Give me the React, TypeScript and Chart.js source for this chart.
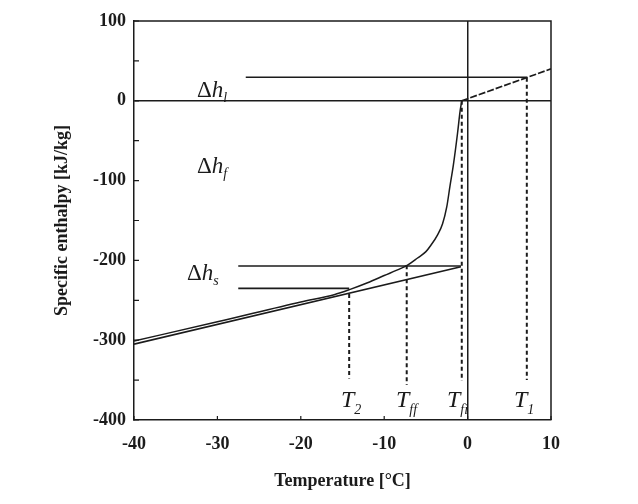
import { useEffect, useRef } from 'react';
import { Chart, registerables } from 'chart.js';

Chart.register(...registerables);

// ---- data (temperature °C, specific enthalpy kJ/kg) ----
const xTickStep = 10;
const yTickStep = 50;
const xRange = [-40, 10];
const yRange = [-400, 100];

const freezeT = [-40, -30, -20, -16, -14, -12, -10, -8, -7.2, -6, -5, -4.4, -3.6, -3.0, -2.5, -2.1, -1.7, -1.2, -0.9, -0.7];
const freezeH = [-301, -277, -252, -243, -236, -228, -219, -210, -206, -197, -189, -181, -168, -154, -133, -106, -80, -40, -13, 0];

const solidT = [-40, -0.8];
const solidH = [-305, -208];

const liquidT = [-0.7, 10];
const liquidH = [0, 40];

const levelH = [29.5, -207, -235];
const levelFrom = [-26.6, -27.5, -27.5];
const levelTo = [7.1, -0.8, -14.2];

const markerSubs = ['2', 'ff', 'fi', '1'];
const markerT = [-14.2, -7.3, -0.7, 7.1];
const markerTop = [-242, -206, 0, 29];
const markerBottom = [-348, -356, -351, -350];

const deltaSubs = ['l', 'f', 's'];

// ---- layout / style ----
const INK = '#1b1b1b';
const SERIF = '"Liberation Serif", "Times New Roman", serif';
const deltaPos = [
  [197, 97],
  [197, 173],
  [187, 280],
];
const markerPos = [
  [342, 407],
  [397, 407],
  [448, 407],
  [515, 407],
];

function drawSymbol(ctx: CanvasRenderingContext2D, parts: { text: string; font: string; dy: number }[], x: number, y: number) {
  let cx = x;
  for (const p of parts) {
    ctx.font = p.font;
    ctx.fillText(p.text, cx, y + p.dy);
    cx += ctx.measureText(p.text).width;
  }
}

const decor = {
  id: 'decor',
  afterDatasetsDraw(chart: any) {
    const { ctx, chartArea: a, scales } = chart;
    const xs = scales.x;
    const ys = scales.y;
    ctx.save();
    ctx.strokeStyle = INK;
    ctx.lineWidth = 1.5;
    ctx.beginPath();
    ctx.moveTo(a.left, a.top);
    ctx.lineTo(a.right, a.top);
    ctx.lineTo(a.right, a.bottom);
    ctx.stroke();

    ctx.lineWidth = 1.2;
    ctx.beginPath();
    ys.ticks.forEach((t: any) => {
      const y = ys.getPixelForValue(t.value);
      ctx.moveTo(a.left, y);
      ctx.lineTo(a.left + 5, y);
    });
    xs.ticks.forEach((t: any) => {
      const x = xs.getPixelForValue(t.value);
      ctx.moveTo(x, a.bottom);
      ctx.lineTo(x, a.bottom - 4);
    });
    ctx.stroke();

    ctx.fillStyle = INK;
    ctx.textBaseline = 'alphabetic';
    ctx.textAlign = 'left';
    deltaSubs.forEach((s, i) => {
      const [x, y] = deltaPos[i];
      drawSymbol(ctx, [
        { text: 'Δ', font: `23px ${SERIF}`, dy: 0 },
        { text: 'h', font: `italic 23px ${SERIF}`, dy: 0 },
        { text: s, font: `italic 14px ${SERIF}`, dy: 5 },
      ], x, y);
    });
    markerSubs.forEach((s, i) => {
      const [x, y] = markerPos[i];
      drawSymbol(ctx, [
        { text: 'T', font: `italic 24px ${SERIF}`, dy: 0 },
        { text: s, font: `italic 14px ${SERIF}`, dy: 7 },
      ], x - 1, y);
    });
    ctx.restore();
  },
};

function line(xsArr: number[], ysArr: number[], extra: any = {}) {
  return {
    data: xsArr.map((x, i) => ({ x, y: ysArr[i] })),
    showLine: true,
    pointRadius: 0,
    borderColor: INK,
    borderWidth: 1.6,
    fill: false,
    ...extra,
  };
}

export default function App() {
  const ref = useRef<HTMLCanvasElement>(null);
  useEffect(() => {
    if (!ref.current) return;
    const datasets: any[] = [
      line(freezeT, freezeH, { cubicInterpolationMode: 'monotone', borderWidth: 1.5 }),
      line(solidT, solidH, { borderWidth: 1.7 }),
      line(liquidT, liquidH, { borderDash: [7, 2], borderWidth: 1.7 }),
    ];
    levelH.forEach((h, i) => datasets.push(line([levelFrom[i], levelTo[i]], [h, h], { borderWidth: 1.6 })));
    markerT.forEach((t, i) => datasets.push(line([t, t], [markerTop[i], markerBottom[i]], { borderDash: [4, 3], borderWidth: 2 })));

    const tickFont = { family: SERIF, weight: 'bold' as const, size: 18 };
    const chart = new Chart(ref.current, {
      type: 'scatter',
      data: { datasets },
      plugins: [decor],
      options: {
        animation: false,
        responsive: false,
        layout: { padding: { left: 0, top: 21, right: 87, bottom: 0 } },
        plugins: { legend: { display: false }, tooltip: { enabled: false } },
        scales: {
          x: {
            type: 'linear',
            min: xRange[0],
            max: xRange[1],
            afterFit: (s: any) => { s.height = 84; },
            ticks: { stepSize: xTickStep, color: INK, font: tickFont, padding: 14 },
            grid: {
              drawTicks: false,
              lineWidth: 1.5,
              color: (c: any) => (c.tick && c.tick.value === 0 ? INK : 'rgba(0,0,0,0)'),
            },
            border: { display: true, color: INK, width: 1.5 },
            title: {
              display: true,
              text: 'Temperature [°C]',
              color: INK,
              font: { family: SERIF, weight: 'bold', size: 18 },
              padding: { top: 0, bottom: 12 },
            },
          },
          y: {
            type: 'linear',
            min: yRange[0],
            max: yRange[1],
            afterFit: (s: any) => { s.width = 134; },
            ticks: {
              stepSize: yTickStep,
              color: INK,
              font: tickFont,
              padding: 8,
              callback: (v: any) => (Number(v) % 100 === 0 ? String(v) : ''),
            },
            grid: {
              drawTicks: false,
              lineWidth: 1.5,
              color: (c: any) => (c.tick && c.tick.value === 0 ? INK : 'rgba(0,0,0,0)'),
            },
            border: { display: true, color: INK, width: 1.5 },
            title: {
              display: true,
              text: 'Specific enthalpy [kJ/kg]',
              color: INK,
              font: { family: SERIF, weight: 'bold', size: 18 },
              padding: { top: 52, bottom: 0 },
            },
          },
        },
      },
    });
    return () => chart.destroy();
  }, []);
  return (
    <div style={{ position: 'fixed', left: 0, top: 0, width: 638, height: 504, background: '#fff' }}>
      <canvas ref={ref} width={638} height={504} style={{ display: 'block' }} />
    </div>
  );
}
